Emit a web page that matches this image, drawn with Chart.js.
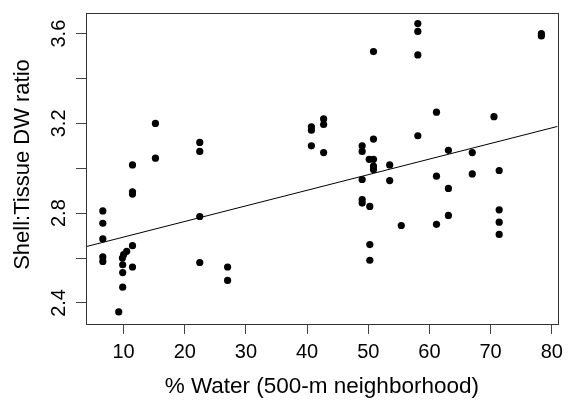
<!DOCTYPE html>
<html>
<head>
<meta charset="utf-8">
<script src="https://cdn.jsdelivr.net/npm/chart.js@4.4.1/dist/chart.umd.min.js"></script>
<style>
  html, body { margin: 0; padding: 0; background: #fff; }
  #shellChart { display: block; }
</style>
</head>
<body>
<canvas id="shellChart" width="569" height="400"></canvas>
<script>
// % water in the 500-m neighborhood for each site sample
var waterPct = [
    6.6, 6.6, 6.6, 6.6, 6.6,
    9.2, 9.85, 9.85, 9.85, 9.8, 10.0, 10.5,
    11.45, 11.45, 11.45, 11.45, 11.45,
    15.2, 15.2,
    22.45, 22.45, 22.45, 22.45,
    27.0, 27.0,
    40.7, 40.7, 40.7,
    42.7, 42.7, 42.7,
    49.0, 49.0, 49.0, 49.0, 49.0,
    50.85, 50.85, 50.15, 50.85, 50.85, 50.85,
    50.25, 50.25, 50.25,
    53.5, 53.5,
    55.4,
    58.1, 58.1, 58.1, 58.1,
    61.15, 61.15, 61.15,
    63.1, 63.1, 63.1,
    67.0, 67.0,
    70.55,
    71.4, 71.4, 71.4, 71.4,
    78.3, 78.3
];

// shell:tissue dry weight ratio, same order
var dwRatio = [
    2.81, 2.755, 2.685, 2.605, 2.585,
    2.36, 2.47, 2.535, 2.57, 2.60, 2.615, 2.63,
    2.655, 2.56, 3.015, 2.895, 2.885,
    3.20, 3.045,
    3.115, 3.075, 2.785, 2.58,
    2.56, 2.50,
    3.185, 3.17, 3.10,
    3.22, 3.195, 3.07,
    3.10, 3.075, 2.95, 2.86, 2.845,
    3.52, 3.13, 3.04, 3.04, 3.01, 2.995,
    2.83, 2.66, 2.59,
    3.015, 2.945,
    2.745,
    3.645, 3.61, 3.505, 3.145,
    3.25, 2.965, 2.75,
    3.08, 2.91, 2.79,
    3.07, 2.975,
    3.23,
    2.99, 2.815, 2.76, 2.705,
    3.60, 3.59
];

var xTicks = [10, 20, 30, 40, 50, 60, 70, 80];
var yTicks = [2.4, 2.6, 2.8, 3.0, 3.2, 3.4, 3.6];
var yLabels = [2.4, 2.8, 3.2, 3.6];

// linear fit: ratio = fitIntercept + fitSlope * water
var fitIntercept = 2.624;
var fitSlope = 0.00695;

var xMin = 3.85, xMax = 80.95;
var yMin = 2.306, yMax = 3.692;

var points = waterPct.map(function (x, i) { return { x: x, y: dwRatio[i] }; });
var fitLine = [xMin, xMax].map(function (x) { return { x: x, y: fitIntercept + fitSlope * x }; });

var fontFamily = '"Liberation Sans", Arial, Helvetica, sans-serif';

// box around the plot region, rotated y labels and y title
var framePlugin = {
    id: 'frame',
    afterDraw: function (chart) {
        var ctx = chart.ctx;
        var area = chart.chartArea;
        var yScale = chart.scales.y;
        ctx.save();
        ctx.strokeStyle = '#333';
        ctx.lineWidth = 1;
        ctx.strokeRect(Math.round(area.left) + 0.5, Math.round(area.top) + 0.5,
            Math.round(area.right - area.left), Math.round(area.bottom - area.top));

        ctx.fillStyle = '#000';
        ctx.textAlign = 'center';
        ctx.textBaseline = 'alphabetic';
        ctx.font = '20px ' + fontFamily;
        yLabels.forEach(function (v) {
            ctx.save();
            ctx.translate(65, yScale.getPixelForValue(v));
            ctx.rotate(-Math.PI / 2);
            ctx.fillText(v.toFixed(1), 0, 0);
            ctx.restore();
        });

        ctx.font = '22px ' + fontFamily;
        ctx.translate(28.5, (area.top + area.bottom) / 2 - 4);
        ctx.rotate(-Math.PI / 2);
        ctx.fillText('Shell:Tissue DW ratio', 0, 0);
        ctx.restore();
    }
};

var ctx = document.getElementById('shellChart').getContext('2d');
var shellChart = new Chart(ctx, {
    type: 'scatter',
    data: {
        datasets: [{
            label: 'Samples',
            data: points,
            backgroundColor: '#000',
            borderWidth: 0,
            pointRadius: 3.6,
            pointHoverRadius: 3.6
        }, {
            type: 'line',
            label: 'Fit',
            data: fitLine,
            borderColor: '#000',
            borderWidth: 1,
            pointRadius: 0,
            fill: false
        }]
    },
    options: {
        responsive: false,
        animation: false,
        layout: {
            padding: { top: 13, right: 8, left: 0, bottom: 0 }
        },
        plugins: {
            legend: { display: false },
            tooltip: { enabled: false }
        },
        scales: {
            x: {
                type: 'linear',
                min: xMin,
                max: xMax,
                afterBuildTicks: function (scale) {
                    scale.ticks = xTicks.map(function (v) { return { value: v }; });
                },
                afterFit: function (scale) { scale.height = 76; },
                border: { display: false },
                grid: { drawOnChartArea: false, tickLength: 10, color: '#444' },
                ticks: {
                    color: '#000',
                    padding: 6,
                    maxRotation: 0,
                    font: { family: fontFamily, size: 20 }
                },
                title: {
                    display: true,
                    text: '% Water (500-m neighborhood)',
                    color: '#000',
                    padding: { top: 0, bottom: 0 },
                    font: { family: fontFamily, size: 22.5 }
                }
            },
            y: {
                type: 'linear',
                min: yMin,
                max: yMax,
                afterBuildTicks: function (scale) {
                    scale.ticks = yTicks.map(function (v) { return { value: v }; });
                },
                afterFit: function (scale) { scale.width = 86; },
                border: { display: false },
                grid: { drawOnChartArea: false, tickLength: 10, color: '#444' },
                ticks: { display: false }
            }
        }
    },
    plugins: [framePlugin]
});
</script>
</body>
</html>
